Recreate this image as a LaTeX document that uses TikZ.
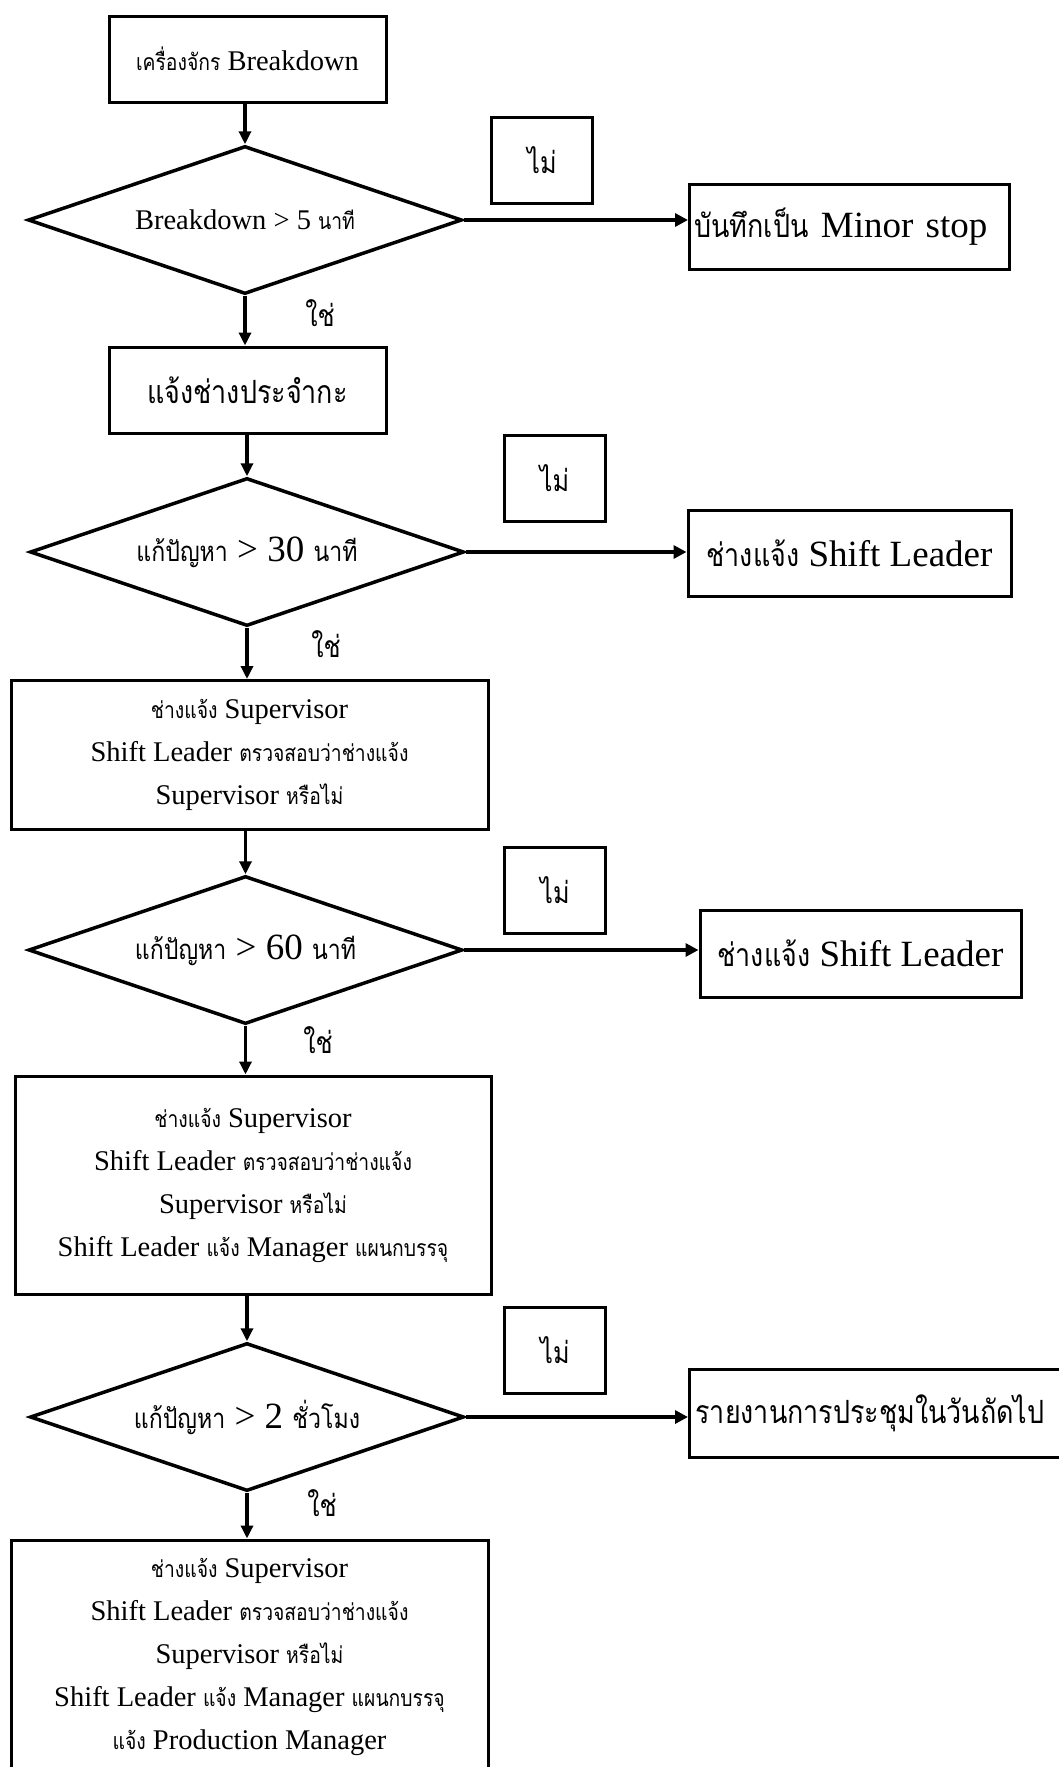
\documentclass[tikz,border=0pt]{standalone}
\usepackage{fontspec}
\setmainfont{Liberation Serif}
\newfontfamily\thaicond[Script=Thai,FakeStretch=0.84]{Loma}
\usetikzlibrary{shapes.geometric,arrows.meta}
\newcommand\ths[1]{{\thaicond\fontsize{23}{23}\selectfont #1}}
\newcommand\thm[1]{{\thaicond\fontsize{27.5}{27.5}\selectfont #1}}
\newcommand\thl[1]{{\thaicond\fontsize{32}{32}\selectfont #1}}
\begin{document}
\begin{tikzpicture}[x=1pt,y=-1pt,
  box/.style={draw, line width=3pt, inner sep=0pt, align=center, font=\fontsize{28.5}{43}\selectfont},
  bigbox/.style={box, font=\fontsize{37}{43}\selectfont},
  dec/.style={diamond, aspect=2.93, draw, line width=3.5pt, inner sep=0pt, minimum width=434pt, minimum height=148pt, align=center, font=\fontsize{28.5}{43}\selectfont},
  bigdec/.style={dec, font=\fontsize{37}{43}\selectfont},
  nobox/.style={draw, line width=3pt, inner sep=0pt, minimum width=101pt, minimum height=86pt, font=\thaicond\fontsize{30}{30}\selectfont},
  yeslbl/.style={inner sep=0pt, font=\thaicond\fontsize{30}{30}\selectfont},
  arr/.style={line width=3.5pt, -{Triangle[length=13pt,width=12pt]}},
  harr/.style={line width=4.5pt, -{Triangle[length=13pt,width=13pt]}}]
\clip (0,0) rectangle (1059,1767);
\fill[white] (0,0) rectangle (1059,1767);
% level 1
\node[box, minimum width=277pt, minimum height=86pt] (b1) at (247.5,59) {\ths{เครื่องจักร} Breakdown};
\node[dec] (d1) at (245,220) {Breakdown > 5 \ths{นาที}};
\node[nobox] (n1) at (542,160) {ไม่};
\node[bigbox, anchor=west, text width=310pt, align=left, inner xsep=5pt, minimum height=85pt] (r1) at (688,226.5) {\thl{บันทึกเป็น} Minor stop};
\node[yeslbl] (y1) at (320,313) {ใช่};
% level 2
\node[bigbox, minimum width=277pt, minimum height=86pt] (b2) at (247.5,390) {\thl{แจ้งช่างประจำกะ}};
\node[bigdec] (d2) at (247,552) {\thm{แก้ปัญหา} > 30 \thm{นาที}};
\node[nobox] (n2) at (554.5,478.5) {ไม่};
\node[bigbox, minimum width=323pt, minimum height=86pt] (r2) at (849.5,553) {\thl{ช่างแจ้ง} Shift Leader};
\node[yeslbl] (y2) at (326,644) {ใช่};
% level 3
\node[box, minimum width=477pt, minimum height=149pt] (b3) at (249.5,755) {\ths{ช่างแจ้ง} Supervisor\\Shift Leader \ths{ตรวจสอบว่าช่างแจ้ง}\\Supervisor \ths{หรือไม่}};
\node[bigdec] (d3) at (245.5,950) {\thm{แก้ปัญหา} > 60 \thm{นาที}};
\node[nobox] (n3) at (555,890.5) {ไม่};
\node[bigbox, minimum width=321pt, minimum height=87pt] (r3) at (860.5,953.5) {\thl{ช่างแจ้ง} Shift Leader};
\node[yeslbl] (y3) at (318,1040) {ใช่};
% level 4
\node[box, minimum width=476pt, minimum height=218pt] (b4) at (253,1185) {\ths{ช่างแจ้ง} Supervisor\\Shift Leader \ths{ตรวจสอบว่าช่างแจ้ง}\\Supervisor \ths{หรือไม่}\\Shift Leader \ths{แจ้ง} Manager \ths{แผนกบรรจุ}};
\node[bigdec] (d4) at (247,1417) {\thm{แก้ปัญหา} > 2 \thm{ชั่วโมง}};
\node[nobox] (n4) at (555,1350.5) {ไม่};
\node[bigbox, anchor=west, text width=400pt, align=left, inner xsep=6pt, minimum height=88pt] (r4) at (688,1413) {\thl{รายงานการประชุมในวันถัดไป}};
\node[yeslbl] (y4) at (322,1503) {ใช่};
% level 5
\node[box, minimum width=477pt, minimum height=234pt] (b5) at (249.5,1657) {\ths{ช่างแจ้ง} Supervisor\\Shift Leader \ths{ตรวจสอบว่าช่างแจ้ง}\\Supervisor \ths{หรือไม่}\\Shift Leader \ths{แจ้ง} Manager \ths{แผนกบรรจุ}\\\ths{แจ้ง} Production Manager};
% vertical arrows
\draw[arr] (b1.south -| d1.north) -- (d1.north);
\draw[arr] (d1.south) -- (d1.south |- b2.north);
\draw[arr] (b2.south -| d2.north) -- (d2.north);
\draw[arr] (d2.south) -- (d2.south |- b3.north);
\draw[arr] (b3.south -| d3.north) -- (d3.north);
\draw[arr] (d3.south) -- (d3.south |- b4.north);
\draw[arr] (b4.south -| d4.north) -- (d4.north);
\draw[arr] (d4.south) -- (d4.south |- b5.north);
% horizontal arrows
\draw[harr] (d1.east) -- (d1.east -| r1.west);
\draw[harr] (d2.east) -- (d2.east -| r2.west);
\draw[harr] (d3.east) -- (d3.east -| r3.west);
\draw[harr] (d4.east) -- (d4.east -| r4.west);
\end{tikzpicture}
\end{document}
